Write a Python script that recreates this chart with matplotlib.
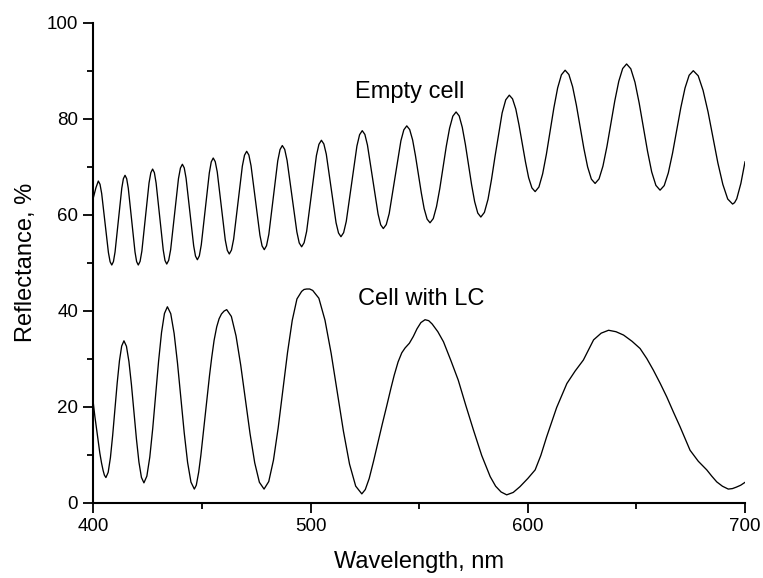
import matplotlib
matplotlib.use("Agg")
import matplotlib.pyplot as plt
from matplotlib.ticker import MultipleLocator

plt.rcParams['font.family'] = ['Liberation Sans', 'DejaVu Sans']

# Empty cell spectrum (wavelength nm, reflectance %)
empty_wl = [
    400.0, 401.2, 402.3,
    403.08, 403.85, 405.4, 406.95, 407.73, 408.5,
    409.26, 410.0, 411.55, 413.1, 413.84, 414.6,
    415.36, 416.1, 417.65, 419.2, 419.94, 420.7,
    421.53, 422.35, 424.0, 425.65, 426.48, 427.3,
    428.11, 428.9, 430.55, 432.2, 432.99, 433.8,
    434.7, 435.6, 437.4, 439.2, 440.1, 441.0,
    441.86, 442.7, 444.45, 446.2, 447.04, 447.9,
    448.81, 449.7, 451.55, 453.4, 454.29, 455.2,
    456.13, 457.05, 458.9, 460.75, 461.68, 462.6,
    463.6, 464.6, 466.6, 468.6, 469.6, 470.6,
    471.61, 472.6, 474.65, 476.7, 477.69, 478.7,
    479.74, 480.8, 482.85, 484.9, 485.96, 487.0,
    488.11, 489.2, 491.45, 493.7, 494.79, 495.9,
    497.04, 498.2, 500.45, 502.7, 503.86, 505.0,
    506.13, 507.25, 509.5, 511.75, 512.88, 514.0,
    515.23, 516.45, 518.9, 521.35, 522.58, 523.8,
    525.01, 526.2, 528.65, 531.1, 532.29, 533.5,
    534.85, 536.2, 538.9, 541.6, 542.95, 544.3,
    545.64, 547.0, 548.31, 549.65, 550.99, 552.3, 553.66, 555.0,
    556.5, 558.0, 559.5, 561.0, 562.5, 564.0, 565.5, 567.0,
    568.43, 569.85, 571.28, 572.7, 574.13, 575.55, 576.98, 578.4,
    580.04, 581.7, 583.31, 584.95, 586.69, 588.2, 589.86, 591.5,
    592.99, 594.5, 595.96, 597.45, 598.94, 600.4, 601.91, 603.4,
    605.13, 606.85, 608.58, 610.3, 612.03, 613.75, 615.48, 617.2,
    618.93, 620.65, 622.38, 624.1, 625.83, 627.55, 629.28, 631.0,
    632.81, 634.6, 636.44, 638.25, 640.06, 641.9, 643.69, 645.5,
    647.43, 649.35, 651.28, 653.2, 655.13, 657.05, 658.98, 660.9,
    662.81, 664.7, 666.64, 668.55, 670.46, 672.4, 674.29, 676.2,
    678.46, 680.7, 682.99, 685.25, 687.51, 689.8, 692.04, 694.3,
    695.2, 696.2, 698.1, 700.0]
empty_r = [
    63.5, 65.6, 67.0,
    66.33, 64.4, 58.25, 52.1, 50.17, 49.5,
    50.21, 52.2, 58.85, 65.5, 67.49, 68.2,
    67.49, 65.5, 58.85, 52.2, 50.21, 49.5,
    50.26, 52.4, 59.5, 66.6, 68.74, 69.5,
    68.75, 66.6, 59.6, 52.6, 50.45, 49.7,
    50.49, 52.7, 60.1, 67.5, 69.71, 70.5,
    69.74, 67.6, 60.55, 53.5, 51.36, 50.6,
    51.41, 53.7, 61.2, 68.7, 70.99, 71.8,
    71.04, 68.9, 61.8, 54.7, 52.56, 51.8,
    52.62, 54.9, 62.5, 70.1, 72.38, 73.2,
    72.42, 70.2, 62.95, 55.7, 53.48, 52.7,
    53.53, 55.9, 63.55, 71.2, 73.57, 74.4,
    73.6, 71.3, 63.85, 56.4, 54.1, 53.3,
    54.15, 56.5, 64.4, 72.3, 74.65, 75.5,
    74.73, 72.6, 65.45, 58.3, 56.17, 55.4,
    56.24, 58.6, 66.45, 74.3, 76.66, 77.5,
    76.72, 74.5, 67.3, 60.1, 57.88, 57.1,
    57.92, 60.2, 67.8, 75.4, 77.68, 78.5,
    77.73, 75.55, 72.26, 68.4, 64.54, 61.25, 59.07, 58.3,
    59.18, 61.7, 65.43, 69.85, 74.27, 78.0, 80.52, 81.4,
    80.57, 78.2, 74.64, 70.45, 66.26, 62.7, 60.33, 59.5,
    60.47, 63.2, 67.34, 72.2, 77.06, 81.2, 83.93, 84.9,
    84.13, 82.0, 78.7, 74.85, 71.0, 67.7, 65.57, 64.8,
    65.76, 68.5, 72.61, 77.45, 82.29, 86.4, 89.14, 90.1,
    89.2, 86.65, 82.81, 78.3, 73.79, 69.95, 67.4, 66.5,
    67.45, 70.1, 74.19, 78.95, 83.71, 87.8, 90.45, 91.4,
    90.4, 87.6, 83.28, 78.25, 73.22, 68.9, 66.1, 65.1,
    66.05, 68.7, 72.79, 77.55, 82.31, 86.4, 89.05, 90.0,
    88.94, 85.9, 81.42, 76.1, 70.78, 66.3, 63.26, 62.2,
    62.5, 63.3, 66.5, 71.0]

# Cell with LC spectrum
lc_wl = [
    400.0, 400.7, 401.5, 402.3, 403.0, 403.8, 404.5, 405.1, 405.8,
    406.84, 407.88, 408.91, 409.95, 410.99, 412.03, 413.06, 414.1,
    415.25, 416.4, 417.55, 418.7, 419.85, 421.0, 422.15, 423.3,
    424.65, 426.0, 427.35, 428.7, 430.05, 431.4, 432.75, 434.1,
    435.65, 437.2, 438.75, 440.3, 441.85, 443.4, 444.95, 446.5,
    447.4, 448.5, 449.5, 450.5, 451.5, 452.5, 453.5, 454.5, 455.6, 456.8,
    457.9, 459.0, 460.2, 461.4,
    463.55, 465.7, 467.85, 470.0, 472.15, 474.3, 476.45, 478.6,
    480.76, 482.93, 485.09, 487.25, 489.41, 491.58, 493.74, 495.9,
    497.0, 498.2, 499.6, 501.0,
    503.83, 506.65, 509.48, 512.3, 515.13, 517.95, 520.78, 523.6,
    525.2, 527.0, 529.0, 531.0, 533.0, 535.0, 537.0, 538.5, 540.3, 542.0,
    543.5, 545.5, 547.3, 549.0, 550.8, 552.7, 554.4, 556.0, 558.6, 561.2,
    564.6, 568.0, 571.5, 575.0, 578.8, 582.7, 585.2, 587.7, 590.3,
    593.3, 596.4, 600.0, 603.4, 606.0, 608.7, 613.3, 618.0, 621.8, 625.6,
    630.3, 633.8, 637.2, 640.6, 644.1, 648.0, 651.7, 654.8, 657.8, 661.0,
    664.0, 667.1, 670.1, 674.7, 678.5, 682.4, 684.7, 687.0, 689.6, 692.3,
    694.2, 696.0, 698.0, 700.0]
lc_r = [
    20.7, 18.0, 15.3, 12.5, 10.3, 8.2, 6.7, 5.7, 5.2,
    6.29, 9.37, 14.0, 19.45, 24.9, 29.53, 32.61, 33.7,
    32.57, 29.37, 24.56, 18.9, 13.24, 8.43, 5.23, 4.1,
    5.5, 9.47, 15.43, 22.45, 29.47, 35.43, 39.4, 40.8,
    39.35, 35.24, 29.07, 21.8, 14.53, 8.36, 4.25, 2.8,
    3.6, 6.3, 9.8, 14.0, 18.3, 22.5, 26.5, 30.2, 33.8, 36.6,
    38.3, 39.3, 39.9, 40.2,
    38.78, 34.72, 28.65, 21.5, 14.35, 8.28, 4.22, 2.8,
    4.37, 8.83, 15.52, 23.4, 31.28, 37.97, 42.43, 44.0,
    44.4, 44.5, 44.5, 44.2,
    42.58, 38.0, 31.11, 23.0, 14.89, 8.0, 3.42, 1.8,
    2.7, 5.0, 8.6, 12.5, 16.3, 20.0, 23.8, 26.5, 29.3, 31.2,
    32.2, 33.2, 34.6, 36.2, 37.5, 38.1, 37.9, 37.2, 35.6, 33.5,
    29.6, 25.5, 20.2, 15.1, 9.8, 5.4, 3.4, 2.2, 1.6,
    2.1, 3.3, 5.0, 6.8, 9.8, 13.7, 19.8, 24.8, 27.4, 29.7,
    33.9, 35.3, 35.9, 35.6, 34.9, 33.6, 32.1, 30.0, 27.6, 24.8,
    22.0, 18.8, 15.8, 10.9, 8.6, 6.8, 5.5, 4.3, 3.4, 2.8,
    2.9, 3.2, 3.6, 4.2]

fig = plt.figure(figsize=(7.63, 5.78), dpi=100)
ax = fig.add_axes([0.1223, 0.1306, 0.9764 - 0.1223, 0.9607 - 0.1306])

ax.plot(empty_wl, empty_r, color='black', lw=0.95, solid_joinstyle='round')
ax.plot(lc_wl, lc_r, color='black', lw=0.95, solid_joinstyle='round')

ax.set_xlim(400, 700)
ax.set_ylim(0, 100)
ax.xaxis.set_major_locator(MultipleLocator(100))
ax.xaxis.set_minor_locator(MultipleLocator(50))
ax.yaxis.set_major_locator(MultipleLocator(20))
ax.yaxis.set_minor_locator(MultipleLocator(10))

for s in ['top', 'right']:
    ax.spines[s].set_visible(False)
for s in ['left', 'bottom']:
    ax.spines[s].set_linewidth(1.5)

ax.tick_params(which='major', direction='out', length=7, width=1.3, labelsize=13.5, pad=4)
ax.tick_params(which='minor', direction='out', length=4, width=1.3)

ax.set_xlabel('Wavelength, nm', fontsize=17)
ax.set_ylabel('Reflectance, %', fontsize=17)
ax.xaxis.set_label_coords(0.5, -0.102)
ax.yaxis.set_label_coords(-0.086, 0.5)

ax.text(520.5, 84.3, 'Empty cell', fontsize=17, va='baseline', ha='left')
ax.text(521.9, 41.1, 'Cell with LC', fontsize=17, va='baseline', ha='left')

fig.savefig('out.png', dpi=100)
